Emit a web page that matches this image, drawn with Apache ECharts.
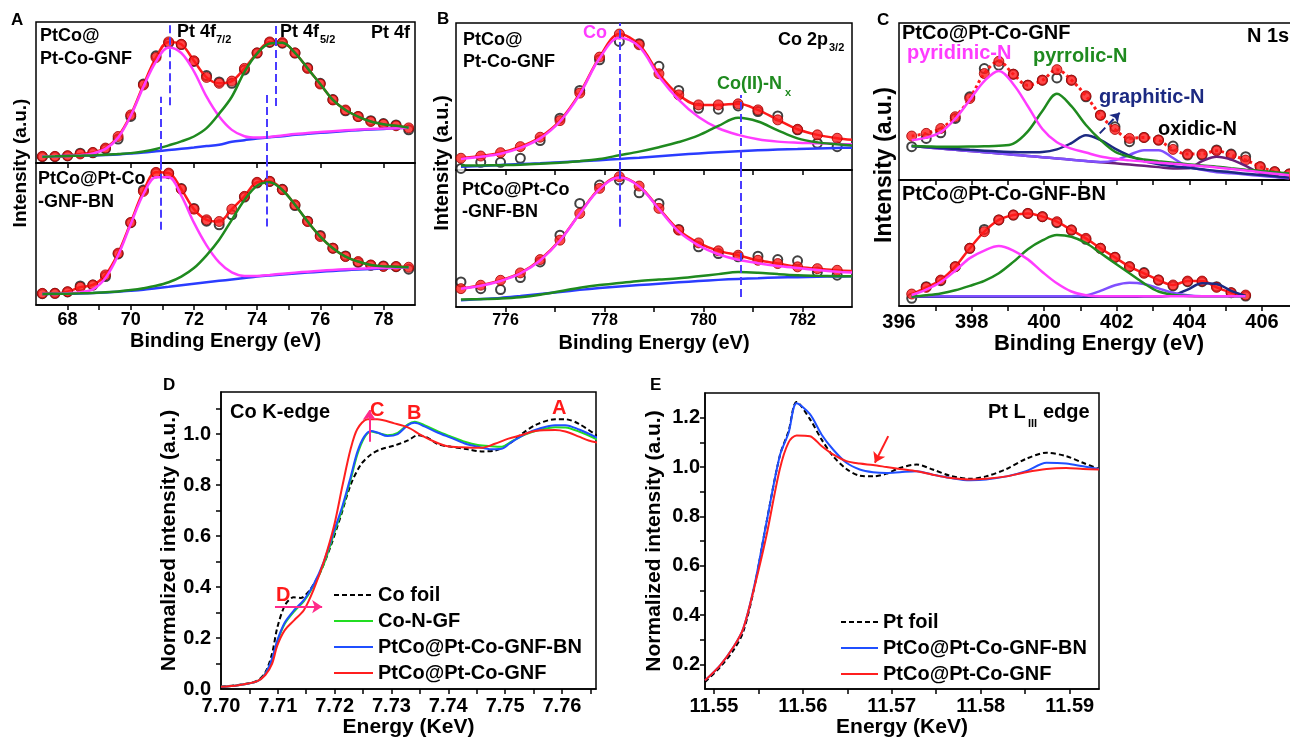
<!DOCTYPE html>
<html>
<head>
<meta charset="utf-8">
<title>PtCo XPS / XANES</title>
<script src="https://cdn.jsdelivr.net/npm/echarts@6/dist/echarts.min.js"></script>
<style>
    html, body { margin: 0; padding: 0; background: #fff; }
    #main { width: 1290px; height: 741px; }
</style>
</head>
<body>
<div id="main"></div>
<script>
// ---------- A: Pt 4f ----------
const xA = [67.2, 67.6, 68.0, 68.4, 68.8, 69.2, 69.6, 70.0, 70.4, 70.8, 71.2, 71.6, 72.0, 72.4, 72.8, 73.2, 73.6, 74.0, 74.4, 74.8, 75.2, 75.6, 76.0, 76.4, 76.8, 77.2, 77.6, 78.0, 78.4, 78.8];
const fitA1 = [0.047, 0.047, 0.052, 0.064, 0.075, 0.106, 0.188, 0.341, 0.553, 0.748, 0.859, 0.842, 0.725, 0.607, 0.565, 0.581, 0.671, 0.781, 0.859, 0.854, 0.781, 0.671, 0.56, 0.447, 0.376, 0.329, 0.294, 0.275, 0.264, 0.249];
const rawA1 = [0.045, 0.045, 0.05, 0.07, 0.072, 0.1, 0.17, 0.33, 0.56, 0.76, 0.85, 0.84, 0.72, 0.62, 0.575, 0.565, 0.66, 0.78, 0.855, 0.85, 0.78, 0.675, 0.565, 0.45, 0.37, 0.33, 0.3, 0.28, 0.27, 0.235];
const pinkA1 = [0.047, 0.047, 0.05, 0.055, 0.068, 0.1, 0.18, 0.335, 0.54, 0.72, 0.82, 0.78, 0.65, 0.47, 0.33, 0.235, 0.19, 0.18, 0.185, 0.195, 0.205, 0.212, 0.22, 0.226, 0.232, 0.237, 0.241, 0.244, 0.247, 0.25];
const greenA1 = [0.045, 0.047, 0.05, 0.052, 0.054, 0.058, 0.064, 0.07, 0.082, 0.099, 0.125, 0.153, 0.188, 0.247, 0.35, 0.47, 0.647, 0.776, 0.847, 0.852, 0.781, 0.671, 0.56, 0.447, 0.376, 0.329, 0.294, 0.275, 0.264, 0.25];
const baseA1 = [0.047, 0.048, 0.05, 0.052, 0.054, 0.057, 0.061, 0.067, 0.074, 0.083, 0.092, 0.101, 0.11, 0.12, 0.13, 0.15, 0.162, 0.174, 0.183, 0.19, 0.2, 0.207, 0.214, 0.22, 0.227, 0.233, 0.238, 0.242, 0.246, 0.25];
const fitA2 = [0.082, 0.082, 0.094, 0.125, 0.141, 0.212, 0.365, 0.581, 0.8, 0.934, 0.929, 0.816, 0.675, 0.6, 0.588, 0.675, 0.765, 0.864, 0.871, 0.812, 0.706, 0.588, 0.482, 0.4, 0.341, 0.306, 0.282, 0.271, 0.271, 0.266];
const rawA2 = [0.08, 0.082, 0.092, 0.134, 0.14, 0.2, 0.36, 0.58, 0.81, 0.93, 0.925, 0.82, 0.68, 0.59, 0.565, 0.635, 0.76, 0.86, 0.87, 0.815, 0.7, 0.59, 0.49, 0.4, 0.345, 0.3, 0.28, 0.275, 0.27, 0.252];
const pinkA2 = [0.08, 0.08, 0.083, 0.09, 0.11, 0.19, 0.35, 0.57, 0.78, 0.9, 0.9, 0.77, 0.58, 0.42, 0.3, 0.23, 0.205, 0.205, 0.212, 0.22, 0.228, 0.235, 0.241, 0.247, 0.252, 0.256, 0.259, 0.262, 0.264, 0.266];
const greenA2 = [0.078, 0.079, 0.08, 0.082, 0.085, 0.09, 0.095, 0.105, 0.118, 0.135, 0.16, 0.2, 0.26, 0.35, 0.46, 0.6, 0.74, 0.84, 0.865, 0.81, 0.706, 0.588, 0.482, 0.4, 0.341, 0.306, 0.282, 0.272, 0.27, 0.266];
const baseA2 = [0.077, 0.078, 0.079, 0.081, 0.084, 0.088, 0.093, 0.1, 0.108, 0.118, 0.128, 0.139, 0.15, 0.16, 0.17, 0.18, 0.19, 0.2, 0.208, 0.215, 0.222, 0.228, 0.234, 0.24, 0.245, 0.25, 0.254, 0.258, 0.262, 0.265];
const ticksA = [68, 69, 70, 71, 72, 73, 74, 75, 76, 77, 78];
const labelsA = [68, 70, 72, 74, 76, 78];

// ---------- B: Co 2p3/2 ----------
const xB = [775.1, 775.5, 775.9, 776.3, 776.7, 777.1, 777.5, 777.9, 778.3, 778.7, 779.1, 779.5, 779.9, 780.3, 780.7, 781.1, 781.5, 781.9, 782.3, 782.7];
const xBline = [775.1, 775.5, 775.9, 776.3, 776.7, 777.1, 777.5, 777.9, 778.3, 778.7, 779.1, 779.5, 779.9, 780.3, 780.7, 781.1, 781.5, 781.9, 782.3, 782.7, 783.0];
const fitB1 = [0.08, 0.095, 0.118, 0.159, 0.223, 0.336, 0.523, 0.768, 0.925, 0.852, 0.655, 0.511, 0.443, 0.443, 0.45, 0.409, 0.341, 0.277, 0.239, 0.216, 0.205];
const rawB1 = [0.011, 0.052, 0.052, 0.08, 0.2, 0.352, 0.541, 0.75, 0.875, 0.859, 0.705, 0.541, 0.42, 0.414, 0.436, 0.398, 0.368, 0.273, 0.182, 0.159];
const pinkB1 = [0.075, 0.09, 0.11, 0.15, 0.215, 0.33, 0.515, 0.76, 0.9, 0.84, 0.636, 0.477, 0.36, 0.284, 0.239, 0.209, 0.193, 0.186, 0.182, 0.177, 0.175];
const greenB1 = [0.03, 0.031, 0.033, 0.036, 0.042, 0.05, 0.06, 0.075, 0.1, 0.125, 0.155, 0.19, 0.235, 0.3, 0.355, 0.33, 0.27, 0.215, 0.188, 0.175, 0.166];
const baseB1 = [0.022, 0.028, 0.034, 0.04, 0.046, 0.053, 0.06, 0.067, 0.075, 0.084, 0.094, 0.104, 0.113, 0.121, 0.128, 0.134, 0.139, 0.143, 0.147, 0.15, 0.152];
const fitB2 = [0.134, 0.159, 0.195, 0.249, 0.346, 0.488, 0.683, 0.866, 0.951, 0.883, 0.72, 0.561, 0.468, 0.41, 0.378, 0.341, 0.317, 0.293, 0.28, 0.268, 0.262];
const rawB2 = [0.183, 0.134, 0.127, 0.215, 0.329, 0.524, 0.756, 0.89, 0.927, 0.834, 0.756, 0.566, 0.439, 0.39, 0.366, 0.371, 0.346, 0.337, 0.256, 0.232];
const pinkB2 = [0.134, 0.155, 0.19, 0.245, 0.34, 0.485, 0.68, 0.86, 0.945, 0.88, 0.715, 0.55, 0.45, 0.385, 0.345, 0.32, 0.3, 0.285, 0.27, 0.258, 0.252];
const greenB2 = [0.054, 0.057, 0.062, 0.072, 0.09, 0.115, 0.14, 0.16, 0.175, 0.19, 0.2, 0.21, 0.225, 0.24, 0.255, 0.25, 0.24, 0.232, 0.228, 0.225, 0.224];
const baseB2 = [0.05, 0.058, 0.066, 0.08, 0.095, 0.11, 0.125, 0.138, 0.15, 0.16, 0.17, 0.18, 0.19, 0.198, 0.205, 0.21, 0.215, 0.218, 0.221, 0.223, 0.224];
const ticksB = [776, 777, 778, 779, 780, 781, 782];
const labelsB = [776, 778, 780, 782];

// ---------- C: N 1s ----------
const xC = [396.35, 396.75, 397.15, 397.55, 397.95, 398.35, 398.75, 399.15, 399.55, 399.95, 400.35, 400.75, 401.15, 401.55, 401.95, 402.35, 402.75, 403.15, 403.55, 403.95, 404.35, 404.75, 405.15, 405.55, 405.95, 406.35, 406.75];
const fitC1 = [0.28, 0.297, 0.328, 0.403, 0.519, 0.678, 0.756, 0.674, 0.604, 0.636, 0.703, 0.636, 0.536, 0.413, 0.322, 0.265, 0.271, 0.254, 0.195, 0.165, 0.165, 0.186, 0.159, 0.127, 0.085, 0.053, 0.038];
const rawC1 = [0.212, 0.265, 0.301, 0.392, 0.53, 0.71, 0.731, 0.674, 0.604, 0.636, 0.65, 0.636, 0.53, 0.413, 0.339, 0.244, 0.271, 0.254, 0.216, 0.159, 0.159, 0.191, 0.165, 0.148, 0.085, 0.053, 0.038];
const pyridinicC1 = [0.254, 0.27, 0.305, 0.39, 0.51, 0.63, 0.695, 0.61, 0.47, 0.325, 0.24, 0.2, 0.175, 0.15, 0.135, 0.125, 0.117, 0.11, 0.103, 0.096, 0.088, 0.08, 0.07, 0.06, 0.05, 0.04, 0.03];
const pyrrolicC1 = [0.216, 0.214, 0.212, 0.212, 0.213, 0.215, 0.218, 0.232, 0.31, 0.44, 0.55, 0.47, 0.35, 0.255, 0.18, 0.148, 0.131, 0.12, 0.11, 0.1, 0.092, 0.085, 0.075, 0.066, 0.058, 0.05, 0.042];
const graphiticC1 = [0.216, 0.21, 0.204, 0.198, 0.192, 0.187, 0.182, 0.178, 0.176, 0.178, 0.195, 0.235, 0.285, 0.255, 0.2, 0.155, 0.12, 0.1, 0.088, 0.078, 0.068, 0.058, 0.05, 0.04, 0.032, 0.024, 0.016];
const violetC1 = [0.216, 0.208, 0.2, 0.192, 0.185, 0.177, 0.169, 0.161, 0.153, 0.145, 0.137, 0.129, 0.121, 0.115, 0.125, 0.16, 0.19, 0.19, 0.14, 0.085, 0.065, 0.05, 0.043, 0.035, 0.027, 0.019, 0.011];
const oxidicC1 = [0.216, 0.208, 0.2, 0.192, 0.185, 0.177, 0.169, 0.161, 0.153, 0.145, 0.137, 0.129, 0.121, 0.113, 0.106, 0.098, 0.09, 0.082, 0.074, 0.075, 0.12, 0.148, 0.13, 0.09, 0.045, 0.022, 0.011];
const fitC2 = [0.095, 0.148, 0.206, 0.312, 0.458, 0.59, 0.683, 0.722, 0.735, 0.709, 0.669, 0.603, 0.537, 0.458, 0.386, 0.312, 0.259, 0.206, 0.167, 0.198, 0.198, 0.148, 0.106, 0.087];
const rawC2 = [0.061, 0.153, 0.201, 0.312, 0.458, 0.608, 0.683, 0.722, 0.735, 0.709, 0.661, 0.603, 0.529, 0.458, 0.386, 0.312, 0.265, 0.206, 0.159, 0.193, 0.193, 0.153, 0.106, 0.079];
const pyridinicC2 = [0.087, 0.13, 0.19, 0.28, 0.38, 0.44, 0.476, 0.44, 0.37, 0.27, 0.18, 0.115, 0.085, 0.078, 0.078, 0.078, 0.078, 0.078, 0.078, 0.078, 0.078, 0.078, 0.078, 0.078];
const pyrrolicC2 = [0.074, 0.085, 0.1, 0.125, 0.16, 0.2, 0.26, 0.35, 0.45, 0.52, 0.563, 0.55, 0.5, 0.42, 0.34, 0.26, 0.18, 0.115, 0.09, 0.08, 0.078, 0.078, 0.078, 0.078];
const violetC2 = [0.076, 0.077, 0.077, 0.077, 0.077, 0.077, 0.077, 0.077, 0.077, 0.077, 0.077, 0.078, 0.085, 0.12, 0.165, 0.185, 0.175, 0.14, 0.105, 0.085, 0.078, 0.078, 0.078, 0.078];
const graphiticC2 = [0.074, 0.074, 0.074, 0.074, 0.074, 0.074, 0.074, 0.074, 0.074, 0.074, 0.074, 0.074, 0.074, 0.074, 0.074, 0.074, 0.075, 0.076, 0.085, 0.13, 0.18, 0.175, 0.12, 0.08];
const ticksC = [397, 398, 399, 400, 401, 402, 403, 404, 405, 406];
const labelsC = [396, 398, 400, 402, 404, 406];

// ---------- D: Co K-edge ----------
const dCoFoil = [[7.700, 0.009], [7.703, 0.016], [7.7063, 0.032], [7.7078, 0.065], [7.709, 0.14], [7.7099, 0.24], [7.7113, 0.33], [7.7128, 0.36], [7.714, 0.357], [7.7157, 0.39], [7.7175, 0.46], [7.7193, 0.56], [7.7211, 0.68], [7.7228, 0.8], [7.7246, 0.88], [7.7264, 0.92], [7.7281, 0.94], [7.7305, 0.955], [7.7329, 0.975], [7.7346, 0.995], [7.7364, 0.985], [7.7382, 0.96], [7.7405, 0.95], [7.7435, 0.94], [7.7458, 0.932], [7.7482, 0.935], [7.7506, 0.96], [7.7529, 1.0], [7.7553, 1.035], [7.7588, 1.058], [7.7606, 1.058], [7.763, 1.04], [7.7664, 0.99]];
const dCoNGF = [[7.700, 0.009], [7.703, 0.015], [7.7063, 0.03], [7.7078, 0.06], [7.709, 0.115], [7.7099, 0.185], [7.7112, 0.255], [7.7129, 0.305], [7.7146, 0.345], [7.7163, 0.405], [7.7181, 0.49], [7.7199, 0.61], [7.7214, 0.71], [7.7228, 0.82], [7.724, 0.92], [7.7252, 0.985], [7.7264, 1.01], [7.7275, 1.005], [7.7293, 0.995], [7.7311, 1.005], [7.7329, 1.038], [7.7341, 1.048], [7.7358, 1.035], [7.7382, 1.01], [7.7405, 0.99], [7.7429, 0.97], [7.7452, 0.957], [7.7476, 0.952], [7.7494, 0.95], [7.7511, 0.97], [7.7535, 0.998], [7.7558, 1.015], [7.7588, 1.027], [7.7606, 1.026], [7.763, 1.01], [7.7664, 0.977]];
const dBN = [[7.700, 0.009], [7.703, 0.015], [7.7063, 0.03], [7.7078, 0.06], [7.709, 0.12], [7.7099, 0.19], [7.7112, 0.26], [7.7129, 0.31], [7.7146, 0.35], [7.7163, 0.41], [7.7181, 0.5], [7.7199, 0.62], [7.7214, 0.72], [7.7228, 0.83], [7.724, 0.93], [7.7252, 0.99], [7.7264, 1.012], [7.7275, 1.006], [7.7293, 0.992], [7.7311, 1.0], [7.7329, 1.035], [7.7341, 1.044], [7.7358, 1.03], [7.7382, 1.005], [7.7405, 0.985], [7.7429, 0.963], [7.7452, 0.95], [7.7476, 0.94], [7.7494, 0.942], [7.7511, 0.968], [7.7535, 1.0], [7.7558, 1.02], [7.7588, 1.035], [7.7606, 1.035], [7.763, 1.018], [7.7664, 0.984]];
const dGNF = [[7.700, 0.009], [7.703, 0.015], [7.7063, 0.03], [7.7078, 0.055], [7.709, 0.1], [7.7099, 0.17], [7.7112, 0.23], [7.7129, 0.27], [7.7146, 0.31], [7.7163, 0.39], [7.7181, 0.5], [7.7199, 0.64], [7.7214, 0.8], [7.7228, 0.94], [7.724, 1.02], [7.7258, 1.058], [7.7275, 1.058], [7.7305, 1.042], [7.7329, 1.026], [7.7352, 0.996], [7.7376, 0.97], [7.7399, 0.952], [7.7423, 0.948], [7.7458, 0.946], [7.7482, 0.962], [7.7506, 0.982], [7.7529, 0.996], [7.7553, 1.012], [7.7588, 1.016], [7.7606, 1.01], [7.763, 0.99], [7.7647, 0.975], [7.7664, 0.966]];
const ticksDx = [7.705, 7.71, 7.715, 7.72, 7.725, 7.73, 7.735, 7.74, 7.745, 7.75, 7.755, 7.76, 7.765];
const labelsDx = [7.70, 7.71, 7.72, 7.73, 7.74, 7.75, 7.76];
const ticksDy = [0.1, 0.2, 0.3, 0.4, 0.5, 0.6, 0.7, 0.8, 0.9, 1.0, 1.1];
const labelsDy = [0.0, 0.2, 0.4, 0.6, 0.8, 1.0];

// ---------- E: Pt LIII edge ----------
const xE = [11.5490, 11.5507, 11.5522, 11.5533, 11.5546, 11.5559, 11.5574, 11.5584, 11.5593, 11.5608, 11.5621, 11.5634, 11.5649, 11.5664, 11.5679, 11.5694, 11.5709, 11.5728, 11.5746, 11.5765, 11.5788, 11.5806, 11.5829, 11.5851, 11.5874, 11.5896, 11.5915, 11.5933];
const ePtFoil = [0.128, 0.189, 0.257, 0.332, 0.522, 0.773, 1.044, 1.146, 1.264, 1.194, 1.112, 1.044, 0.992, 0.965, 0.962, 0.973, 0.996, 1.01, 0.99, 0.965, 0.952, 0.962, 0.992, 1.033, 1.058, 1.044, 1.017, 0.992];
const eBN = [0.135, 0.196, 0.27, 0.345, 0.528, 0.773, 1.044, 1.139, 1.258, 1.214, 1.132, 1.071, 1.017, 0.99, 0.979, 0.976, 0.979, 0.983, 0.969, 0.956, 0.946, 0.949, 0.962, 0.983, 1.017, 1.014, 1.003, 0.992];
const eGNF = [0.135, 0.196, 0.27, 0.345, 0.52, 0.72, 0.99, 1.1, 1.128, 1.125, 1.085, 1.051, 1.024, 1.014, 1.008, 1.0, 0.992, 0.983, 0.969, 0.956, 0.949, 0.952, 0.962, 0.979, 0.992, 0.996, 0.992, 0.99];
const ticksEx = [11.55, 11.555, 11.56, 11.565, 11.57, 11.575, 11.58, 11.585, 11.59];
const labelsEx = [11.55, 11.56, 11.57, 11.58, 11.59];
const ticksEy = [0.2, 0.3, 0.4, 0.5, 0.6, 0.7, 0.8, 0.9, 1.0, 1.1, 1.2];
const labelsEy = [0.2, 0.4, 0.6, 0.8, 1.0, 1.2];

const FONT = '"Liberation Sans", Arial, sans-serif';
const PINK = '#ff3cff', GREEN = '#1f8a1f', BLUE = '#2a3cff', RED = '#ff1a1a';
const NAVY = '#1c2a82', VIOLET = '#8050ff', PURPLE = '#6a1f7a', DASH = '#4a3cff';

function pair(xs, ys) {
    return ys.map(function (y, i) { return [xs[i], y]; });
}

function curve(name, g, data, color, width, extra) {
    let s = {
        name: name, type: 'line', xAxisIndex: g, yAxisIndex: g, data: data,
        symbol: 'none', smooth: 0.35, silent: true,
        lineStyle: {color: color, width: width || 2.5},
        itemStyle: {color: color}, z: 4
    };
    return Object.assign(s, extra || {});
}

function dots(name, g, data, filled) {
    return {
        name: name, type: 'scatter', xAxisIndex: g, yAxisIndex: g, data: data, silent: true,
        symbol: filled ? 'circle' : 'emptyCircle', symbolSize: filled ? 10 : 9,
        itemStyle: filled ? {color: RED, borderColor: '#a00000', borderWidth: 1}
            : {color: '#111', borderColor: '#111', borderWidth: 2.2},
        z: filled ? 3 : 2
    };
}

// dashed guide lines / arrows as markLine pieces
function guides(list, color, type, arrow) {
    return {
        silent: true, animation: false,
        symbol: arrow ? ['none', 'arrow'] : ['none', 'none'], symbolSize: 9,
        label: {show: false},
        lineStyle: {color: color, width: 2, type: type},
        data: list.map(function (p) { return [{coord: p[0]}, {coord: p[1]}]; })
    };
}

function subX(g, min, max, ticks, labels, fontSize, name, nameSize, nameGap) {
    let ax = {
        type: 'value', gridIndex: g, min: min, max: max, position: 'bottom',
        splitLine: {show: false},
        axisLine: {show: true, lineStyle: {color: '#000', width: 1.5}},
        axisTick: {show: true, inside: false, length: 5, customValues: ticks, lineStyle: {color: '#000', width: 1.5}},
        axisLabel: {show: false}
    };
    if (labels) {
        ax.axisLabel = {
            show: true, customValues: labels, margin: 6, color: '#000',
            fontSize: fontSize, fontWeight: 'bold', fontFamily: FONT
        };
        ax.name = name;
        ax.nameLocation = 'middle';
        ax.nameGap = nameGap;
        ax.nameTextStyle = {fontSize: nameSize, fontWeight: 'bold', fontFamily: FONT, color: '#000'};
    }
    return ax;
}

function hiddenY(g) {
    return {type: 'value', gridIndex: g, min: 0, max: 1, show: false};
}

function txt(text, x, y, size, color, align) {
    return {
        type: 'text', x: x, y: y, z: 100, silent: true,
        style: {
            text: text, fill: color || '#000', align: align || 'left', verticalAlign: 'middle',
            font: 'bold ' + size + 'px ' + FONT
        }
    };
}

function vtxt(text, x, y, size) {
    let t = txt(text, x, y, size, '#000', 'center');
    t.rotation = Math.PI / 2;
    return t;
}

function grid(left, top, width, height) {
    return {
        left: left, top: top, width: width, height: height, show: true,
        borderColor: '#000', borderWidth: 1.5, backgroundColor: 'transparent',
        containLabel: false, outerBoundsMode: 'none'
    };
}

let chart = echarts.init(document.getElementById('main'), null, {renderer: 'canvas'});

let series = [
    // A top
    dots('A raw 1', 0, pair(xA, rawA1), false),
    curve('A fit 1', 0, pair(xA, fitA1), RED, 2.5, {z: 3}),
    dots('A fitpts 1', 0, pair(xA, fitA1), true),
    curve('A base 1', 0, pair(xA, baseA1), BLUE, 2.5, {
        markLine: guides([[[71.25, 0.41], [71.25, 1]], [[74.6, 0.405], [74.6, 1]], [[70.95, 0], [70.95, 0.47]], [[74.3, 0], [74.3, 0.49]]], DASH, 'dashed')
    }),
    curve('A 7/2 1', 0, pair(xA, pinkA1), PINK),
    curve('A 5/2 1', 0, pair(xA, greenA1), GREEN),
    // A bottom
    dots('A raw 2', 1, pair(xA, rawA2), false),
    curve('A fit 2', 1, pair(xA, fitA2), RED, 2.5, {z: 3}),
    dots('A fitpts 2', 1, pair(xA, fitA2), true),
    curve('A base 2', 1, pair(xA, baseA2), BLUE, 2.5, {
        markLine: guides([[[70.95, 0.53], [70.95, 1]], [[74.3, 0.553], [74.3, 1]]], DASH, 'dashed')
    }),
    curve('A 7/2 2', 1, pair(xA, pinkA2), PINK),
    curve('A 5/2 2', 1, pair(xA, greenA2), GREEN),
    // B top
    dots('B raw 1', 2, pair(xB, rawB1), false),
    curve('B fit 1', 2, pair(xBline, fitB1), RED, 2.5, {z: 3}),
    dots('B fitpts 1', 2, pair(xB, fitB1), true),
    curve('B base 1', 2, pair(xBline, baseB1), BLUE, 2.5, {
        markLine: guides([[[778.3, 0], [778.3, 1]], [[780.76, 0], [780.76, 0.51]]], DASH, 'dashed')
    }),
    curve('B Co 1', 2, pair(xBline, pinkB1), PINK),
    curve('B CoN 1', 2, pair(xBline, greenB1), GREEN),
    // B bottom
    dots('B raw 2', 3, pair(xB, rawB2), false),
    curve('B fit 2', 3, pair(xBline, fitB2), RED, 2.5, {z: 3}),
    dots('B fitpts 2', 3, pair(xB, fitB2), true),
    curve('B base 2', 3, pair(xBline, baseB2), BLUE, 2.5, {
        markLine: guides([[[778.3, 0.585], [778.3, 1]], [[780.76, 0.073], [780.76, 1]]], DASH, 'dashed')
    }),
    curve('B Co 2', 3, pair(xBline, pinkB2), PINK),
    curve('B CoN 2', 3, pair(xBline, greenB2), GREEN),
    // C top
    dots('C raw 1', 4, pair(xC, rawC1), false),
    curve('C fit 1', 4, pair(xC, fitC1), RED, 2.5, {z: 3, lineStyle: {color: RED, width: 3, type: 'dotted'}}),
    dots('C fitpts 1', 4, pair(xC, fitC1), true),
    curve('C oxidic 1', 4, pair(xC, oxidicC1), PURPLE),
    curve('C violet 1', 4, pair(xC, violetC1), VIOLET),
    curve('C graphitic 1', 4, pair(xC, graphiticC1), NAVY, 2.5, {
        markLine: guides([[[401.53, 0.297], [402.08, 0.428]]], NAVY, 'dashed', true)
    }),
    curve('C pyrrolic 1', 4, pair(xC, pyrrolicC1), GREEN),
    curve('C pyridinic 1', 4, pair(xC, pyridinicC1), PINK),
    // C bottom
    dots('C raw 2', 5, pair(xC, rawC2), false),
    curve('C fit 2', 5, pair(xC, fitC2), RED, 2.5, {z: 3}),
    dots('C fitpts 2', 5, pair(xC, fitC2), true),
    curve('C graphitic 2', 5, pair(xC, graphiticC2), NAVY),
    curve('C violet 2', 5, pair(xC, violetC2), VIOLET),
    curve('C pyrrolic 2', 5, pair(xC, pyrrolicC2), GREEN),
    curve('C pyridinic 2', 5, pair(xC, pyridinicC2), PINK),
    // D
    curve('Co foil', 6, dCoFoil, '#000', 2, {smooth: 0.3, lineStyle: {color: '#000', width: 2, type: [5, 3]}}),
    curve('Co-N-GF', 6, dCoNGF, '#22dd22', 2, {smooth: 0.3}),
    curve('PtCo@Pt-Co-GNF-BN', 6, dBN, '#1f4fff', 2, {smooth: 0.3}),
    curve('PtCo@Pt-Co-GNF', 6, dGNF, '#ff1f1f', 2, {
        smooth: 0.3,
        markLine: {
            silent: true, symbol: ['none', 'arrow'], symbolSize: 10, label: {show: false},
            lineStyle: {color: '#ff2a8a', width: 2, type: 'solid'},
            data: [
                [{coord: [7.7095, 0.323]}, {coord: [7.7178, 0.323]}],
                [{coord: [7.7261, 0.97]}, {coord: [7.7261, 1.094]}]
            ]
        }
    }),
    // E
    curve('Pt foil', 7, pair(xE, ePtFoil), '#000', 2, {smooth: 0.3, lineStyle: {color: '#000', width: 2, type: [5, 3]}}),
    curve('PtCo@Pt-Co-GNF-BN', 7, pair(xE, eBN), '#1f4fff', 2, {smooth: 0.3}),
    curve('PtCo@Pt-Co-GNF', 7, pair(xE, eGNF), '#ff1f1f', 2, {
        smooth: 0.3,
        markLine: {
            silent: true, symbol: ['none', 'arrow'], symbolSize: 10, label: {show: false},
            lineStyle: {color: '#ff1f1f', width: 2, type: 'solid'},
            data: [[{coord: [11.5696, 1.125]}, {coord: [11.5681, 1.017]}]]
        }
    })
];

function mainAxisStyle() {
    return {
        axisLine: {show: true, lineStyle: {color: '#000', width: 1.5}},
        splitLine: {show: false}
    };
}

let xD = Object.assign({
    type: 'value', gridIndex: 6, min: 7.70, max: 7.766,
    axisTick: {show: true, length: 5, customValues: ticksDx, lineStyle: {color: '#000', width: 1.5}},
    axisLabel: {customValues: labelsDx, margin: 7, color: '#000', fontSize: 20, fontWeight: 'bold', fontFamily: FONT,
        formatter: function (v) { return v.toFixed(2); }},
    name: 'Energy (KeV)', nameLocation: 'middle', nameGap: 26,
    nameTextStyle: {fontSize: 21, fontWeight: 'bold', fontFamily: FONT, color: '#000'}
}, mainAxisStyle());
let yD = Object.assign({
    type: 'value', gridIndex: 6, min: 0, max: 1.165,
    axisTick: {show: true, length: 5, customValues: ticksDy, lineStyle: {color: '#000', width: 1.5}},
    axisLabel: {customValues: labelsDy, margin: 10, color: '#000', fontSize: 20, fontWeight: 'bold', fontFamily: FONT,
        formatter: function (v) { return v.toFixed(1); }},
    name: 'Normalized intensity (a.u.)', nameLocation: 'middle', nameGap: 40,
    nameTextStyle: {fontSize: 21, fontWeight: 'bold', fontFamily: FONT, color: '#000'}
}, mainAxisStyle());
let xEax = Object.assign({
    type: 'value', gridIndex: 7, min: 11.549, max: 11.5933,
    axisTick: {show: true, length: 5, customValues: ticksEx, lineStyle: {color: '#000', width: 1.5}},
    axisLabel: {customValues: labelsEx, margin: 7, color: '#000', fontSize: 20, fontWeight: 'bold', fontFamily: FONT,
        formatter: function (v) { return v.toFixed(2); }},
    name: 'Energy (KeV)', nameLocation: 'middle', nameGap: 28,
    nameTextStyle: {fontSize: 21, fontWeight: 'bold', fontFamily: FONT, color: '#000'}
}, mainAxisStyle());
let yEax = Object.assign({
    type: 'value', gridIndex: 7, min: 0.1, max: 1.3,
    axisTick: {show: true, length: 5, customValues: ticksEy, lineStyle: {color: '#000', width: 1.5}},
    axisLabel: {customValues: labelsEy, margin: 5, color: '#000', fontSize: 20, fontWeight: 'bold', fontFamily: FONT,
        formatter: function (v) { return v.toFixed(1); }},
    name: 'Normalized intensity (a.u.)', nameLocation: 'middle', nameGap: 40,
    nameTextStyle: {fontSize: 21, fontWeight: 'bold', fontFamily: FONT, color: '#000'}
}, mainAxisStyle());

let legendText = {fontSize: 20, fontWeight: 'bold', fontFamily: FONT, color: '#000', lineHeight: 20};

let option = {
    animation: false,
    backgroundColor: '#fff',
    grid: [
        grid(36, 22, 379, 141),
        grid(36, 163, 379, 142),
        grid(456, 23, 396, 147),
        grid(456, 170, 396, 137),
        grid(899, 23, 400, 157),
        grid(899, 180, 400, 126),
        grid(221, 392, 375, 297),
        grid(705, 393, 394, 296)
    ],
    xAxis: [
        subX(0, 67, 79, labelsA),
        subX(1, 67, 79, ticksA, labelsA, 18, 'Binding Energy (eV)', 20, 26),
        subX(2, 775, 783, ticksB),
        subX(3, 775, 783, ticksB, labelsB, 16, 'Binding Energy (eV)', 20, 26),
        subX(4, 396, 407.02, ticksC),
        subX(5, 396, 407.02, ticksC, labelsC, 20, 'Binding Energy (eV)', 22, 24),
        xD,
        xEax
    ],
    yAxis: [hiddenY(0), hiddenY(1), hiddenY(2), hiddenY(3), hiddenY(4), hiddenY(5), yD, yEax],
    // itemHeight kept tiny so the legend shows only the line sample, no dot
    legend: [
        {
            data: ['Co foil', 'Co-N-GF', 'PtCo@Pt-Co-GNF-BN', 'PtCo@Pt-Co-GNF'],
            left: 333, top: 585, orient: 'vertical', itemWidth: 39, itemHeight: 2, itemGap: 6,
            padding: 0, selectedMode: false, textStyle: legendText
        },
        {
            data: ['Pt foil', 'PtCo@Pt-Co-GNF-BN', 'PtCo@Pt-Co-GNF'],
            left: 840, top: 612, orient: 'vertical', itemWidth: 37, itemHeight: 2, itemGap: 6,
            padding: 0, selectedMode: false, textStyle: legendText
        }
    ],
    graphic: [
        // panel letters
        txt('A', 11, 20, 17), txt('B', 437, 19, 17), txt('C', 877, 20, 17),
        txt('D', 163, 385, 17), txt('E', 650, 385, 17),
        // y titles of stacked panels
        vtxt('Intensity (a.u.)', 21, 163, 19),
        vtxt('Intensity (a.u.)', 442, 163, 20),
        vtxt('Intensity (a.u.)', 885, 165, 23),
        // A
        txt('PtCo@', 40, 36, 18), txt('Pt-Co-GNF', 40, 59, 18),
        txt('Pt 4f', 177, 32, 18), txt('7/2', 216, 40, 11),
        txt('Pt 4f', 280, 32, 18), txt('5/2', 320, 40, 11),
        txt('Pt 4f', 410, 33, 18, '#000', 'right'),
        txt('PtCo@Pt-Co', 38, 179, 18), txt('-GNF-BN', 38, 202, 18),
        // B
        txt('PtCo@', 463, 40, 18), txt('Pt-Co-GNF', 463, 62, 18),
        txt('Co', 583, 33, 18, PINK),
        txt('Co 2p', 778, 40, 18), txt('3/2', 829, 48, 11),
        txt('Co(II)-N', 717, 84, 18, GREEN), txt('x', 785, 93, 11, GREEN),
        txt('PtCo@Pt-Co', 462, 190, 18), txt('-GNF-BN', 462, 212, 18),
        // C
        txt('PtCo@Pt-Co-GNF', 902, 33, 20),
        txt('pyridinic-N', 907, 53, 20, PINK),
        txt('pyrrolic-N', 1033, 56, 20, GREEN),
        txt('graphitic-N', 1099, 97, 20, NAVY),
        txt('oxidic-N', 1158, 129, 20),
        txt('N 1s', 1247, 36, 20),
        txt('PtCo@Pt-Co-GNF-BN', 902, 194, 20),
        // D
        txt('Co K-edge', 230, 412, 20),
        txt('C', 370, 410, 20, '#ff1a1a'), txt('B', 407, 413, 20, '#ff1a1a'),
        txt('A', 552, 408, 20, '#ff1a1a'), txt('D', 276, 595, 20, '#ff1a1a'),
        // E
        txt('Pt L', 988, 412, 20), txt('III', 1028, 424, 11), txt('edge', 1043, 412, 20)
    ],
    series: series
};

chart.setOption(option);
</script>
</body>
</html>
